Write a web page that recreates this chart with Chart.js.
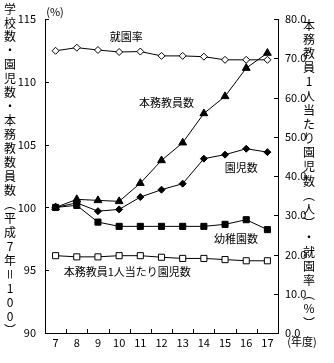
<!DOCTYPE html>
<html><head><meta charset="utf-8">
<script src="https://cdn.jsdelivr.net/npm/chart.js@4/dist/chart.umd.min.js"></script>
<style>html,body{margin:0;padding:0;background:#fff}canvas{display:block}</style>
</head><body>
<canvas id="c" width="334" height="363"></canvas>
<script>
// ---- data ----
const years = ['7','8','9','10','11','12','13','14','15','16','17'];
const kindergartens = [100, 100.16, 98.83, 98.49, 98.49, 98.49, 98.49, 98.49, 98.65, 99.02, 98.23]; // 幼稚園数
const children = [100, 100.36, 99.7, 99.84, 100.82, 101.41, 101.89, 103.88, 104.2, 104.67, 104.4]; // 園児数
const teachers = [100, 100.64, 100.56, 100.48, 101.93, 103.74, 105.15, 107.48, 108.84, 111.09, 112.29]; // 本務教員数
const enrollmentRate = [71.9, 72.7, 72.1, 71.6, 71.7, 70.6, 70.6, 70.4, 69.6, 69.6, 69.6]; // 就園率
const childrenPerTeacher = [19.7, 19.4, 19.4, 19.7, 19.7, 19.3, 19.0, 19.0, 18.7, 18.4, 18.4]; // 本務教員1人当たり園児数
const leftTicks = [90, 95, 100, 105, 110, 115];
const rightTicks = [0, 10, 20, 30, 40, 50, 60, 70, 80];

const leftTitle = '学校数・園児数・本務教数員数︵平成7年＝100︶';
const rightTitle = '本務教員1人当たり園児数︵人︶・就園率︵%︶';
const FONT = '"Noto Sans CJK JP", "Noto Sans", sans-serif';

// label anchors in data space (category index, left-axis value)
const seriesLabels = [
  {text: '就園率', x: 3.33, y: 113.6},
  {text: '本務教員数', x: 5.24, y: 108.36},
  {text: '園児数', x: 8.76, y: 103.18},
  {text: '幼稚園数', x: 8.52, y: 97.53},
  {text: '本務教員1人当たり園児数', x: 3.38, y: 94.9}
];

const deco = {
  id: 'deco',
  afterDraw(chart) {
    const {ctx, chartArea: a, scales: {x, y, y1}} = chart;
    ctx.save();
    ctx.strokeStyle = '#000';
    ctx.lineWidth = 1;
    ctx.beginPath();
    leftTicks.forEach(v => {
      const p = Math.round(y.getPixelForValue(v)) + 0.5;
      ctx.moveTo(a.left, p); ctx.lineTo(a.left + 4, p);
    });
    rightTicks.forEach(v => {
      const p = Math.round(y1.getPixelForValue(v)) + 0.5;
      ctx.moveTo(a.right, p); ctx.lineTo(a.right - 4, p);
    });
    for (let i = 1; i < years.length; i++) {
      const p = Math.round((x.getPixelForValue(i - 1) + x.getPixelForValue(i)) / 2) + 0.5;
      ctx.moveTo(p, a.bottom); ctx.lineTo(p, a.bottom - 4);
    }
    ctx.stroke();

    ctx.fillStyle = '#000';
    ctx.font = '11px ' + FONT;
    ctx.textAlign = 'center';
    ctx.textBaseline = 'middle';
    seriesLabels.forEach(l => {
      ctx.fillText(l.text, x.getPixelForValue(l.x), y.getPixelForValue(l.y));
    });
    ctx.fillText('(%)', a.left + 10, a.top - 7);
    ctx.fillText('(年度)', a.right + 24, a.bottom + 9);

    // vertical titles
    ctx.font = '12px ' + FONT;
    const drawVertical = (str, cx, top, bottom) => {
      const chars = Array.from(str);
      const step = (bottom - top) / (chars.length - 1);
      chars.forEach((ch, i) => {
        const cy = top + i * step;
        if (ch === '＝') {
          ctx.save(); ctx.translate(cx, cy); ctx.rotate(Math.PI / 2);
          ctx.fillText(ch, 0, 0); ctx.restore();
        } else {
          ctx.fillText(ch, cx, cy);
        }
      });
    };
    drawVertical(leftTitle, 10, a.top - 10, a.bottom - 3);
    drawVertical(rightTitle, a.right + 31, a.top + 6, a.bottom - 10);
    ctx.restore();
  }
};

const ds = (label, data, axis, style, fill, r) => ({
  label, data, yAxisID: axis,
  borderColor: '#000', borderWidth: 1, tension: 0, fill: false,
  pointStyle: style, pointRadius: r, pointHoverRadius: r,
  pointBackgroundColor: fill ? '#000' : '#fff', pointBorderColor: '#000', pointBorderWidth: 1
});

new Chart(document.getElementById('c'), {
  type: 'line',
  data: {
    labels: years,
    datasets: [
      ds('就園率', enrollmentRate, 'y1', 'rectRot', false, 3.5),
      ds('本務教員1人当たり園児数', childrenPerTeacher, 'y1', 'rect', false, 4.3),
      ds('幼稚園数', kindergartens, 'y', 'rect', true, 4.3),
      ds('園児数', children, 'y', 'rectRot', true, 3.5),
      ds('本務教員数', teachers, 'y', 'triangle', true, 4.5)
    ]
  },
  options: {
    responsive: false,
    animation: false,
    layout: {padding: {top: 19, left: 0, right: 0, bottom: 0}},
    plugins: {legend: {display: false}, tooltip: {enabled: false}},
    scales: {
      x: {
        type: 'category', offset: true,
        grid: {display: false, drawTicks: false},
        border: {display: true, color: '#000', width: 1},
        ticks: {color: '#000', font: {family: FONT, size: 11}, padding: 3, maxRotation: 0, autoSkip: false},
        afterFit(s) { s.height = 30; }
      },
      y: {
        position: 'left', min: 90, max: 115,
        grid: {display: false, drawTicks: false},
        border: {display: true, color: '#000', width: 1},
        ticks: {color: '#000', font: {family: FONT, size: 11}, padding: 9, stepSize: 5},
        afterBuildTicks(s) { s.ticks = leftTicks.map(v => ({value: v})); },
        afterFit(s) { s.width = 45; }
      },
      y1: {
        position: 'right', min: 0, max: 80,
        grid: {display: false, drawTicks: false},
        border: {display: true, color: '#000', width: 1},
        ticks: {color: '#000', font: {family: FONT, size: 11}, padding: 7, stepSize: 10,
          callback: v => Number(v).toFixed(1)},
        afterBuildTicks(s) { s.ticks = rightTicks.map(v => ({value: v})); },
        afterFit(s) { s.width = 56; }
      }
    }
  },
  plugins: [deco]
});
</script>
</body></html>
